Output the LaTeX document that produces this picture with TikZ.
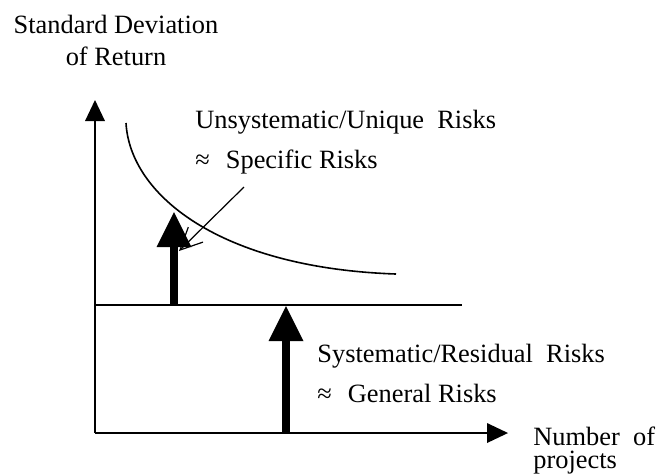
\documentclass[tikz,border=0pt]{standalone}
\usepackage{fontspec}
\setmainfont{Liberation Serif}
\usetikzlibrary{arrows.meta}
\tikzstyle{axisline} = [line width=1pt, -{Triangle[width=10pt,length=10.5pt,line width=0pt]}]
\tikzstyle{level} = [line width=1pt]
\tikzstyle{bigarrow} = [line width=4.3pt, -{Triangle[width=17.5pt,length=17.5pt,line width=0pt]}]
\tikzstyle{pointer} = [line width=0.6pt, -{Straight Barb[width=10.5pt,length=11pt]}]
\tikzstyle{curve} = [line width=0.8pt]
\tikzstyle{txt} = [inner sep=0pt, font=\fontsize{13.2}{16}\selectfont]

\begin{document}
\begin{tikzpicture}[x=0.5pt, y=-0.5pt]
\useasboundingbox (0,0) rectangle (672,473);

% axes
\coordinate (orig) at (95,433);
\coordinate (ytop) at (95,100);
\coordinate (xend) at (508,433);
\draw [axisline] (orig) -- (ytop);
\draw [axisline] (orig) -- (xend);

% systematic risk level
\coordinate (lvlL) at (95,305);
\coordinate (lvlR) at (462,305);
\draw [level] (lvlL) -- (lvlR);

% total risk curve
\coordinate (cstart) at (126,123);
\coordinate (cend) at (396,274);
\draw [curve] (cstart) .. controls (130,195) and (220,268) .. (cend);

% risk arrows
\coordinate (ubase) at (174,305);
\coordinate (utip) at (174,212);
\coordinate (sbase) at (286,433);
\coordinate (stip) at (286,306);
\draw [bigarrow] (ubase) -- (utip);
\draw [bigarrow] (sbase) -- (stip);

% labels (base = last line)
\node (ylab) [txt, align=center, anchor=base] at (116,65) {Standard Deviation\\of Return};
\node (xlab) [txt, align=left, anchor=base west, font=\fontsize{13.2}{11.5}\selectfont] at (533,468) {Number\ \ of\\projects};
\node (unsys) [txt, anchor=base west] at (195,128) {Unsystematic/Unique\ \ Risks};
\node (spec) [txt, anchor=base west] at (195,168) {≈\hspace{8pt}Specific Risks};
\node (sys) [txt, anchor=base west] at (317,362) {Systematic/Residual\ \ Risks};
\node (gen) [txt, anchor=base west] at (317,402) {≈\hspace{8pt}General Risks};

% pointer to the curve
\coordinate (ptail) at (244,187);
\coordinate (phead) at (179,251);
\draw [pointer] (ptail) -- (phead);

\end{tikzpicture}
\end{document}
